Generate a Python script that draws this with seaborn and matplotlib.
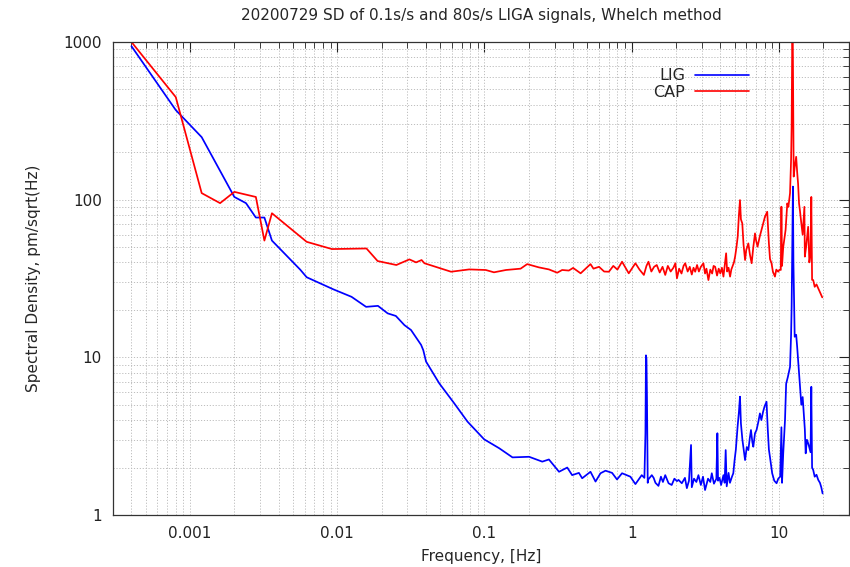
import numpy as np
import pandas as pd
import matplotlib
matplotlib.use("Agg")
import matplotlib.pyplot as plt
import matplotlib.ticker as mticker
import seaborn as sns

# --- LIG spectral density (pm/sqrt(Hz)) ---
lig_freq = [
    0.0004, 0.0008, 0.0012, 0.002, 0.0024, 0.0028, 0.0032, 0.0036, 0.0056, 0.0062,
    0.0094, 0.0125, 0.0157, 0.0189, 0.022, 0.025, 0.0286, 0.0317, 0.0371, 0.0384,
    0.0401, 0.0493, 0.0623, 0.0767, 0.0995, 0.126, 0.155, 0.201, 0.247, 0.274,
    0.321, 0.365, 0.394, 0.438, 0.461, 0.525, 0.568, 0.614, 0.664, 0.736,
    0.795, 0.86, 0.98, 1.06, 1.17, 1.22, 1.24, 1.25, 1.26, 1.27,
    1.285, 1.29, 1.37, 1.41, 1.45, 1.52, 1.58, 1.63, 1.69, 1.78,
    1.87, 1.95, 2.03, 2.08, 2.19, 2.3, 2.37, 2.45, 2.53, 2.56,
    2.65, 2.75, 2.84, 2.95, 3.05, 3.15, 3.3, 3.42, 3.5, 3.62,
    3.76, 3.82, 3.86, 3.95, 4.05, 4.2, 4.28, 4.35, 4.42, 4.55,
    4.65, 4.8, 4.9, 5.0, 5.1, 5.24, 5.35, 5.44, 5.52, 5.65,
    5.89, 6.05, 6.2, 6.35, 6.46, 6.6, 6.7, 6.88, 7.05, 7.25,
    7.43, 7.6, 7.8, 8.0, 8.24, 8.4, 8.55, 8.69, 9.0, 9.3,
    9.64, 9.9, 10.2, 10.4, 10.5, 10.7, 11.0, 11.2, 11.5, 11.9,
    12.1, 12.2, 12.35, 12.45, 12.55, 12.8, 13.1, 13.3, 13.8, 14.2,
    14.5, 15.0, 15.2, 15.5, 15.9, 16.4, 16.6, 16.8, 17.1, 17.5,
    18.0, 18.5, 19.0, 19.4, 19.8,
]
lig_sd = [
    940, 370, 249, 104, 95, 77, 77, 55, 36, 32.2,
    27.0, 24.2, 20.9, 21.2, 19.0, 18.3, 16.0, 14.9, 12.0, 11.1,
    9.4, 6.84, 5.11, 3.91, 3.02, 2.65, 2.32, 2.34, 2.18, 2.25,
    1.88, 2.0, 1.79, 1.85, 1.71, 1.88, 1.63, 1.84, 1.91, 1.85,
    1.68, 1.84, 1.75, 1.57, 1.79, 1.72, 3.3, 10.3, 9.8, 5.6,
    1.6, 1.67, 1.79, 1.72, 1.6, 1.53, 1.75, 1.62, 1.79, 1.59,
    1.55, 1.7, 1.64, 1.67, 1.59, 1.72, 1.48, 1.65, 2.78, 1.5,
    1.7, 1.62, 1.79, 1.55, 1.75, 1.44, 1.7, 1.62, 1.84, 1.58,
    1.7, 3.3, 1.65, 1.72, 1.55, 1.79, 1.6, 2.58, 1.52, 1.85,
    1.6, 1.75, 1.84, 2.23, 2.6, 3.63, 4.5, 5.63, 3.81, 3.0,
    2.23, 2.7, 2.58, 3.1, 3.46, 2.9, 2.71, 3.3, 3.46, 3.9,
    4.41, 4.0, 4.5, 4.9, 5.23, 3.5, 2.6, 2.34, 1.84, 1.65,
    1.59, 1.7, 1.75, 3.6, 1.6, 2.46, 4.0, 6.8, 7.5, 8.7,
    14, 20.9, 60, 121, 40, 13.5, 13.9, 11.7, 7.2, 5.0,
    5.6, 3.5, 2.46, 3.0, 2.8, 2.5, 6.5, 2.0, 1.93, 1.75,
    1.8, 1.67, 1.6, 1.5, 1.37,
]

# --- CAP spectral density (pm/sqrt(Hz)) ---
cap_freq = [
    0.0004, 0.0008, 0.0012, 0.0016, 0.002, 0.0028, 0.0032, 0.0036, 0.0062, 0.0092,
    0.0158, 0.0188, 0.0252, 0.0309, 0.0343, 0.0374, 0.0391, 0.0593, 0.0787, 0.102,
    0.116, 0.14, 0.176, 0.195, 0.234, 0.274, 0.312, 0.337, 0.374, 0.40,
    0.45, 0.525, 0.55, 0.6, 0.65, 0.70, 0.75, 0.80, 0.86, 0.955,
    1.06, 1.13, 1.21, 1.26, 1.30, 1.36, 1.42, 1.48, 1.55, 1.62,
    1.69, 1.76, 1.84, 1.92, 1.98, 2.03, 2.10, 2.18, 2.25, 2.31,
    2.40, 2.48, 2.56, 2.63, 2.70, 2.78, 2.86, 2.95, 3.07, 3.15,
    3.22, 3.32, 3.42, 3.52, 3.60, 3.69, 3.80, 3.90, 4.0, 4.1,
    4.2, 4.28, 4.38, 4.45, 4.55, 4.66, 4.75, 4.85, 4.95, 5.04,
    5.15, 5.25, 5.35, 5.44, 5.52, 5.64, 5.75, 5.89, 6.0, 6.2,
    6.35, 6.53, 6.7, 6.88, 7.0, 7.16, 7.4, 7.62, 7.8, 8.04,
    8.33, 8.45, 8.55, 8.7, 8.91, 9.1, 9.4, 9.6, 9.89, 10.1,
    10.3, 10.4, 10.5, 10.7, 11.1, 11.4, 11.6, 11.9, 12.1, 12.2,
    12.35, 12.45, 12.6, 12.8, 13.1, 13.3, 13.5, 13.7, 13.9, 14.2,
    14.5, 14.9, 15.0, 15.3, 15.8, 16.1, 16.4, 16.6, 16.8, 17.1,
    17.5, 18.0, 18.5, 19.0, 19.4, 19.7,
]
cap_sd = [
    1000, 447, 110, 95, 112, 104, 55, 82, 54, 48.6,
    49, 40.8, 38.5, 41.8, 40.0, 41.4, 39.5, 34.9, 36.1, 35.8,
    34.6, 35.8, 36.5, 39.0, 37.2, 36.1, 34.4, 35.8, 35.5, 36.9,
    34.1, 39.0, 36.5, 37.5, 35.0, 34.9, 38.0, 36.0, 40.4, 34.1,
    39.5, 36, 33.3, 38, 40.4, 35, 37.5, 38.5, 34.5, 37.5,
    33.3, 38, 35, 37, 39.5, 31.7, 36.5, 34, 38, 39.5,
    35, 37.5, 33.5, 37, 34.9, 38.5, 35, 37.5, 39.5, 34,
    36.5, 30.9, 36, 34, 38, 37.5, 33, 36.5, 34, 37,
    32.5, 38, 45.7, 35, 37, 32.5, 36, 38, 40, 43.5,
    50, 58.2, 80, 99.4, 75, 70.7, 52, 41.4, 48, 52.8,
    45, 39.5, 50, 61.1, 55, 50.3, 58, 64.2, 70, 77.9,
    83.8, 65, 52.8, 42, 39.5, 35, 32.5, 36, 34.9, 36,
    35.8, 90.2, 38, 50, 64.2, 94.7, 90, 110, 180, 290,
    1500, 800, 140, 160, 187, 150, 126, 94.7, 85, 70.7,
    60, 90, 43.5, 50, 67.3, 40, 45, 104, 31, 30.9,
    28, 29, 27.4, 26, 24.8, 24.0,
]

df = pd.concat([
    pd.DataFrame({"freq": lig_freq, "sd": lig_sd, "signal": "LIG"}),
    pd.DataFrame({"freq": cap_freq, "sd": cap_sd, "signal": "CAP"}),
], ignore_index=True)

sns.set_theme(style="white")
plt.rcParams['font.family'] = ['DejaVu Sans']

fig = plt.figure(figsize=(8.5, 5.67), dpi=100)
ax = fig.add_axes([0.133, 0.0917, 0.866, 0.8343])

sns.lineplot(
    data=df, x="freq", y="sd", hue="signal",
    hue_order=["LIG", "CAP"],
    palette={"LIG": "#0000ff", "CAP": "#ff0000"},
    estimator=None, sort=False, linewidth=1.25, ax=ax,
)

ax.set_xscale('log')
ax.set_yscale('log')
ax.set_xlim(3e-4, 30)
ax.set_ylim(1, 1000)

# gnuplot-like ticks and grid
ax.xaxis.set_major_locator(mticker.LogLocator(base=10, numticks=20))
ax.xaxis.set_minor_locator(mticker.LogLocator(base=10, subs=np.arange(2, 10), numticks=20))
ax.yaxis.set_major_locator(mticker.LogLocator(base=10, numticks=20))
ax.yaxis.set_minor_locator(mticker.LogLocator(base=10, subs=np.arange(2, 10), numticks=20))
ax.xaxis.set_major_formatter(mticker.FuncFormatter(lambda v, p: f"{v:g}"))
ax.yaxis.set_major_formatter(mticker.FuncFormatter(lambda v, p: f"{v:g}"))
ax.xaxis.set_minor_formatter(mticker.NullFormatter())
ax.yaxis.set_minor_formatter(mticker.NullFormatter())

ax.tick_params(which='both', direction='in', top=True, right=True,
               labelsize=11, colors='#222222', pad=8)
ax.tick_params(which='major', length=7, width=0.8)
ax.tick_params(which='minor', length=4, width=0.6)

ax.grid(True, which='both', color='#bdbdbd', linestyle=(0, (1.2, 1.8)), linewidth=0.7)
for s in ax.spines.values():
    s.set_visible(True)
    s.set_color('#333333')
    s.set_linewidth(0.9)

ax.set_title("20200729 SD of 0.1s/s and 80s/s LIGA signals, Whelch method",
             fontsize=11, pad=16)
ax.set_xlabel("Frequency, [Hz]", fontsize=11, labelpad=6)
ax.set_ylabel("Spectral Density, pm/sqrt(Hz)", fontsize=11, labelpad=16)

leg = ax.legend(loc='upper right', bbox_to_anchor=(0.864, 0.944), frameon=False,
                markerfirst=False, handlelength=3.4, handletextpad=0.6,
                labelspacing=0.1, borderpad=0, borderaxespad=0, fontsize=11.5)
for line in leg.get_lines():
    line.set_linewidth(1.2)

fig.savefig("out.png", dpi=100)
